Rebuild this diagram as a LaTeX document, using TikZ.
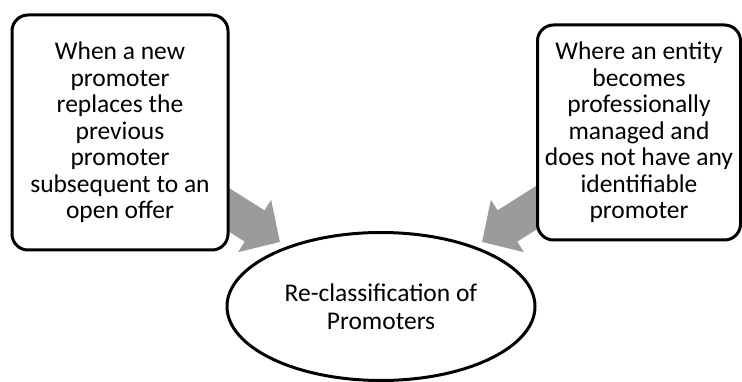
\documentclass[tikz,border=0pt]{standalone}
\usepackage{fontspec}
\setmainfont{Carlito}
\usetikzlibrary{arrows.meta,shapes.geometric}
\definecolor{arrowgray}{HTML}{9B9B9B}
\tikzset{
  box/.style={draw=black, line width=3pt, rounded corners=16pt, fill=white,
    align=center, inner sep=0pt, font=\fontsize{25.5}{26.5}\selectfont},
  oval/.style={draw=black, line width=3pt, ellipse, fill=white, inner sep=0pt,
    align=center, font=\fontsize{25.5}{28}\selectfont},
  bigarrow/.style={draw=arrowgray, line width=37pt,
    -{Triangle[length=30pt,width=60pt]}}
}
\begin{document}
\begin{tikzpicture}[x=1pt,y=-1pt]
\useasboundingbox (0,0) rectangle (742,382);
% arrow coordinates
\coordinate (ls) at (215,201);
\coordinate (lt) at (280,242);
\coordinate (rs) at (547,201);
\coordinate (rt) at (482,242);
\draw[bigarrow] (ls) -- (lt);
\draw[bigarrow] (rs) -- (rt);
% boxes
\node[box, minimum width=216pt, minimum height=235pt] (l) at (120,132.5)
  {When a new\\promoter\\replaces the\\previous\\promoter\\subsequent to an\\open offer};
\node[box, minimum width=203pt, minimum height=215pt] (r) at (639,132.5)
  {Where an entity\\becomes\\professionally\\managed and\\does not have any\\identifiable\\promoter};
\node[oval, minimum width=308pt, minimum height=148pt] (e) at (381,306.5)
  {Re-classification of\\Promoters};
\end{tikzpicture}
\end{document}
